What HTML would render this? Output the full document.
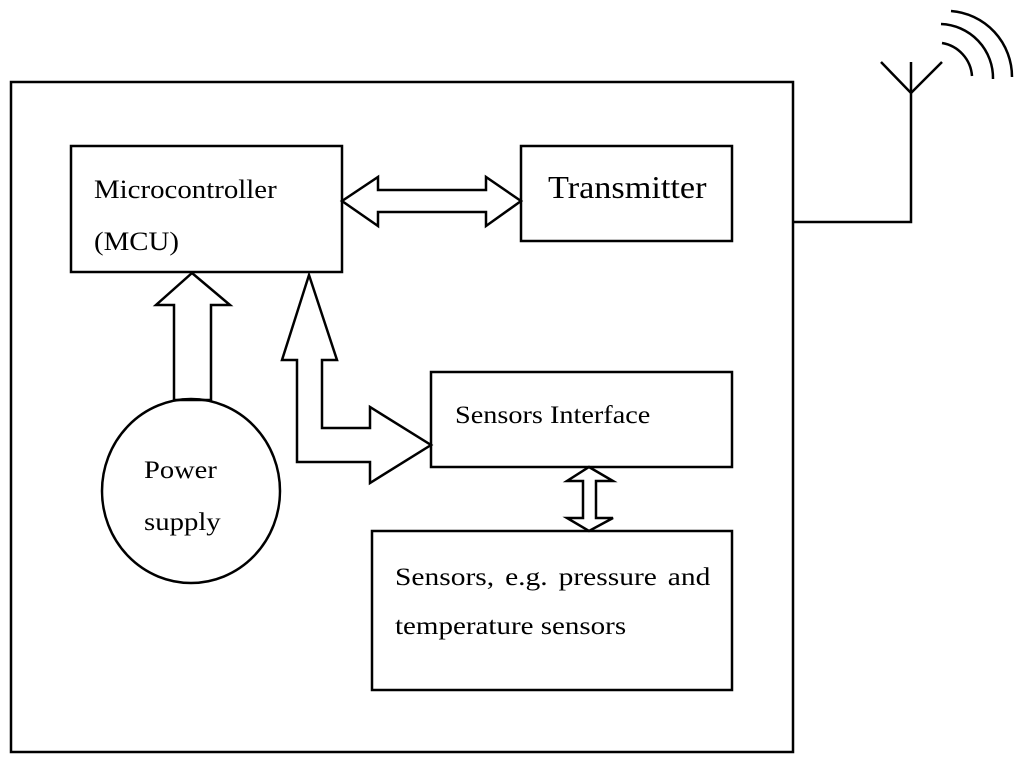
<!DOCTYPE html>
<html><head><meta charset="utf-8"><style>html,body{margin:0;padding:0;background:#fff}svg{display:block;position:absolute;left:0;top:0}
.t{position:absolute;font-family:"Liberation Serif",serif;color:#000;white-space:nowrap;line-height:1;transform-origin:0 0}</style></head>
<body>
<svg width="1024" height="765" viewBox="0 0 1024 765" xmlns="http://www.w3.org/2000/svg">
<g fill="none" stroke="#000" stroke-width="2.5" stroke-linejoin="miter">
<rect x="11" y="82" width="782" height="670"/>
<rect x="71" y="146" width="271" height="126"/>
<rect x="521" y="146" width="211" height="95"/>
<rect x="431" y="372" width="301" height="95"/>
<rect x="372" y="531" width="360" height="159"/>
<ellipse cx="191" cy="491" rx="89" ry="92"/>
<polyline points="793,222 911,222 911,62"/>
<polyline points="881,62 911,93 942,62"/>
<path d="M942,43 A36,36 0 0 1 972,76"/>
<path d="M941,24 A54,54 0 0 1 993,79"/>
<path d="M951,11 A66,66 0 0 1 1012,77"/>
<polygon points="342,201 378,177 378,190 486,190 486,177 521,201 486,226 486,212 378,212 378,226"/>
<polygon points="589,467 613,481 596,481 596,518 613,518 589,531 567,518 583,518 583,481 567,481"/>
<polygon points="192,273 230,305 211,305 211,400 174,400 174,305 156,305"/>
<polygon points="309,275 337,360 322,360 322,428 370,428 370,407 431,445 370,483 370,462 297,462 297,360 282,360"/>
</g>
</svg>
<div class="t" style="left:94px;top:177px;font-size:26px;transform:scaleX(1.11)">Microcontroller</div>
<div class="t" style="left:94px;top:229px;font-size:26px;transform:scaleX(1.11)">(MCU)</div>
<div class="t" style="left:548px;top:171px;font-size:32px;transform:scaleX(1.07)">Transmitter</div>
<div class="t" style="left:455px;top:403px;font-size:25px;transform:scaleX(1.13)">Sensors Interface</div>
<div class="t" style="left:144px;top:458px;font-size:25px;transform:scaleX(1.14)">Power</div>
<div class="t" style="left:144px;top:510px;font-size:25px;transform:scaleX(1.15)">supply</div>
<div class="t" style="left:395px;top:565px;font-size:25px;word-spacing:3px;transform:scaleX(1.18)">Sensors, e.g. pressure and</div>
<div class="t" style="left:395px;top:614px;font-size:25px;transform:scaleX(1.16)">temperature sensors</div>
</body></html>
